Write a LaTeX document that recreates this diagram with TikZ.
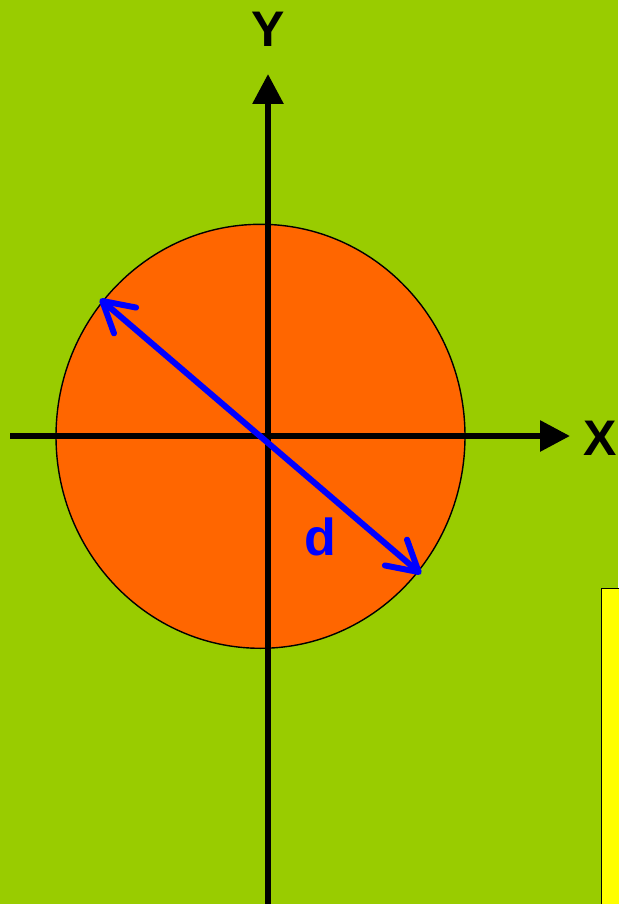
\documentclass[tikz,border=0pt]{standalone}
\usepackage{fontspec}
\setmainfont{Liberation Sans}
\usepackage{tikz}
\usetikzlibrary{arrows.meta,shapes.geometric,positioning}
\definecolor{bggreen}{RGB}{153,204,0}
\definecolor{discorange}{RGB}{255,102,0}
\definecolor{dblue}{RGB}{0,0,255}
\definecolor{boxyellow}{RGB}{255,255,0}
\tikzset{
  axis/.style={line width=6pt,-{Triangle[length=30pt,width=30pt]}},
  axlbl/.style={font=\fontsize{50}{50}\selectfont\bfseries,text=black,inner sep=0pt},
  disc/.style={ellipse,draw=black,line width=1.4pt,fill=discorange,
    minimum width=409pt,minimum height=424pt,inner sep=0pt},
  diam/.style={line width=6pt,color=dblue,line cap=round,
    {Straight Barb[length=30pt,width=34pt,round]}-{Straight Barb[length=30pt,width=34pt,round]}},
  dlbl/.style={font=\fontsize{52}{52}\selectfont\bfseries,text=dblue,inner sep=0pt},
  ybox/.style={draw=black,line width=1.2pt,fill=boxyellow}
}
\begin{document}
\begin{tikzpicture}[x=1pt,y=-1pt]
    % Background
    \useasboundingbox (0,0) rectangle (618,904);
    \fill[bggreen] (0,0) rectangle (618,904);

    % Disc
    \node[disc] (circ) at (260.5,436.3) {};

    % Axes
    \coordinate (xs) at (10,436);
    \coordinate (xe) at (570,436);
    \coordinate (ys) at (268,906);
    \coordinate (ye) at (268,74);
    \draw[axis] (xs) -- (xe);
    \draw[axis] (ys) -- (ye);
    \node[axlbl] (ylbl) at (268,29) {Y};
    \node[axlbl] (xlbl) at (600,438) {X};

    % Diameter
    \coordinate (da) at (100,299);
    \coordinate (db) at (421,574);
    \draw[diam] (da) -- (db);
    \node[dlbl] (dl) at (320,537) {d};

    % Box
    \node[ybox,inner sep=0pt,anchor=north west,minimum width=30pt,minimum height=330pt] (box) at (600.5,587.5) {};
  \end{tikzpicture}
\end{document}
